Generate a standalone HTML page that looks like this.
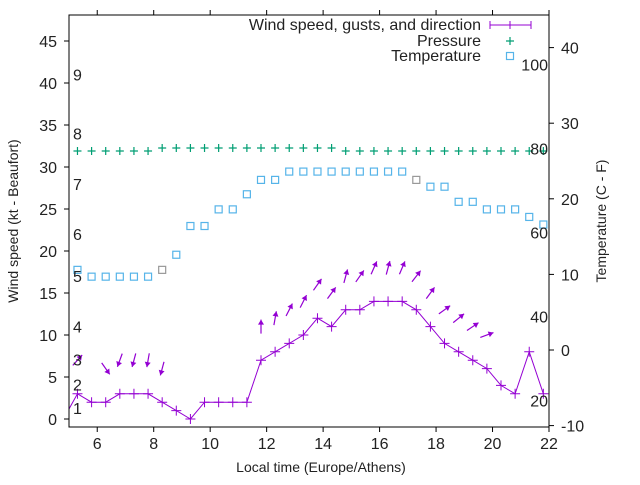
<!DOCTYPE html>
<html><head><meta charset="utf-8"><style>
body{margin:0;background:#fff}
svg text{font-family:"Liberation Sans",sans-serif;font-size:16px;fill:#222}
svg text.title{font-size:14px}
</style></head><body>
<svg id="chart" width="640" height="480" viewBox="0 0 640 480" xmlns="http://www.w3.org/2000/svg">
<defs><clipPath id="clip"><rect x="69" y="15" width="480" height="412"/></clipPath></defs>
<g id="plot" clip-path="url(#clip)"></g>
<g id="axes"></g>
</svg>
<script>
const times=[5.3,5.8,6.3,6.8,7.3,7.8,8.3,8.8,9.3,9.8,10.3,10.8,11.3,11.8,12.3,12.8,13.3,13.8,14.3,14.8,15.3,15.8,16.3,16.8,17.3,17.8,18.3,18.8,19.3,19.8,20.3,20.8,21.3,21.8];
const windKt=[3,2,2,3,3,3,2,1,0,2,2,2,2,7,8,9,10,12,11,13,13,14,14,14,13,11,9,8,7,6,4,3,8,3];
const windDir=[42,null,145,200,195,190,195,null,null,null,null,null,null,0,10,27,27,35,36,15,35,24,15,23,38,36,54,51,56,70,null,null,null,null];
const tempC=[10.6,9.7,9.7,9.7,9.7,9.7,10.6,12.6,16.4,16.4,18.6,18.6,20.6,22.5,22.5,23.6,23.6,23.6,23.6,23.6,23.6,23.6,23.6,23.6,22.5,21.6,21.6,19.6,19.6,18.6,18.6,18.6,17.6,16.6];
const pressure=[1013,1013,1013,1013,1013,1013,1014,1014,1014,1014,1014,1014,1014,1014,1014,1014,1014,1014,1014,1013,1013,1013,1013,1013,1013,1013,1013,1013,1013,1013,1013,1013,1013,1013];
const xTicks=[6,8,10,12,14,16,18,20,22];
const yTicks=[0,5,10,15,20,25,30,35,40,45];
const y2Ticks=[-10,0,10,20,30,40];
const fTicks=[20,40,60,80,100];
const beaufortLabels=[1,2,3,4,5,6,7,8,9];
const beaufortKt=[1.3,4.1,7.1,11,17,22,28,34,41];
const greyTemp=[6,24];

const NS="http://www.w3.org/2000/svg";
const X=t=>69+(t-5)*480/17;
const Y=v=>419-v*8.4;
const Y2=c=>350-c*7.56;
const YP=p=>151-(p-1013)*3;
const plot=document.getElementById('plot'),axes=document.getElementById('axes');
function mk(tag,attrs,parent){const e=document.createElementNS(NS,tag);for(const k in attrs)e.setAttribute(k,attrs[k]);parent.appendChild(e);return e;}
const P='#9400d3',G='#009e73',B='#56b4e9';

const fr=mk('rect',{x:69,y:15,width:480,height:412,fill:'none',stroke:'#000','stroke-width':1},axes);

xTicks.forEach(t=>{
  mk('line',{x1:X(t),x2:X(t),y1:427,y2:432,stroke:'#000'},axes);
  mk('line',{x1:X(t),x2:X(t),y1:15,y2:10,stroke:'#000'},axes);
  const tx=mk('text',{x:X(t),y:449,'text-anchor':'middle'},axes);tx.textContent=t;
  
});
yTicks.forEach(v=>{
  mk('line',{x1:64,x2:69,y1:Y(v),y2:Y(v),stroke:'#000'},axes);
  const tx=mk('text',{x:57,y:Y(v)+6,'text-anchor':'end'},axes);tx.textContent=v;
  
});
y2Ticks.forEach(v=>{
  mk('line',{x1:549,x2:554,y1:Y2(v),y2:Y2(v),stroke:'#000'},axes);
  const tx=mk('text',{x:561,y:Y2(v)+6,'text-anchor':'start'},axes);tx.textContent=v;
  
});
fTicks.forEach(f=>{
  const c=(f-32)*5/9;
  const tx=mk('text',{x:548,y:Y2(c)+6,'text-anchor':'end'},axes);tx.textContent=f;
  
});
beaufortLabels.forEach((b,i)=>{
  const tx=mk('text',{x:73,y:Y(beaufortKt[i])+6},axes);tx.textContent=b;
  
});
let t1=mk('text',{x:321,y:472,'text-anchor':'middle',class:'title'},axes);t1.textContent='Local time (Europe/Athens)';

let t2=mk('text',{x:0,y:0,'text-anchor':'middle',class:'title',transform:'translate(18,221) rotate(-90)'},axes);t2.textContent='Wind speed (kt - Beaufort)';

let t3=mk('text',{x:0,y:0,'text-anchor':'middle',class:'title',transform:'translate(606,221) rotate(-90)'},axes);t3.textContent='Temperature (C - F)';


pressure.forEach((p,i)=>{
  const x=X(times[i]),y=YP(p);
  const g=mk('path',{d:`M${x-4} ${y}H${x+4}M${x} ${y-4}V${y+4}`,stroke:G,'stroke-width':1.2,fill:'none'},plot);
  
});
tempC.forEach((c,i)=>{
  const x=X(times[i]),y=Y2(c);
  const r=mk('rect',{x:x-3.5,y:y-3.5,width:7,height:7,fill:'none',stroke:greyTemp.includes(i)?'#999':B,'stroke-width':1.2},plot);
  
});
let d='M'+X(4.8)+' '+Y(0);
times.forEach((t,i)=>{d+=' L'+X(t)+' '+Y(windKt[i]);});
const wl=mk('path',{d:d,stroke:P,fill:'none','stroke-width':1},plot);

windKt.forEach((w,i)=>{
  const x=X(times[i]),y=Y(w);
  const m=mk('path',{d:`M${x-5} ${y}H${x+5}M${x} ${y-5}V${y+5}`,stroke:P,'stroke-width':1},plot);
  
});
windDir.forEach((a,i)=>{
  if(a===null)return;
  const cx=X(times[i]),cy=Y(windKt[i]+4),L=14,r=a*Math.PI/180;
  const dx=Math.sin(r),dy=-Math.cos(r);
  const x1=cx-dx*L/2,y1=cy-dy*L/2,x2=cx+dx*L/2,y2=cy+dy*L/2;
  const g=mk('g',{},plot);
  
  mk('line',{x1:x1,y1:y1,x2:x2,y2:y2,stroke:P,'stroke-width':1.2},g);
  const px=-dy,py=dx,h=5,w=3;
  mk('path',{d:`M${x2} ${y2}L${x2-dx*h+px*w} ${y2-dy*h+py*w}L${x2-dx*h-px*w} ${y2-dy*h-py*w}Z`,fill:P},g);
});
const lg=mk('g',{},axes);
[['Wind speed, gusts, and direction',25],['Pressure',41],['Temperature',56]].forEach(([s,y])=>{
  const tx=mk('text',{x:481,y:y+5,'text-anchor':'end'},lg);tx.textContent=s;
  
});
mk('path',{d:'M490 25H531M490 21V29M531 21V29M510 21V29',stroke:P,'stroke-width':1,fill:'none'},lg);
mk('path',{d:'M506 41H514M510 37V45',stroke:G,'stroke-width':1.2},lg);
mk('rect',{x:506.5,y:52.5,width:7,height:7,fill:'none',stroke:B,'stroke-width':1.2},lg);
</script>
</body></html>
